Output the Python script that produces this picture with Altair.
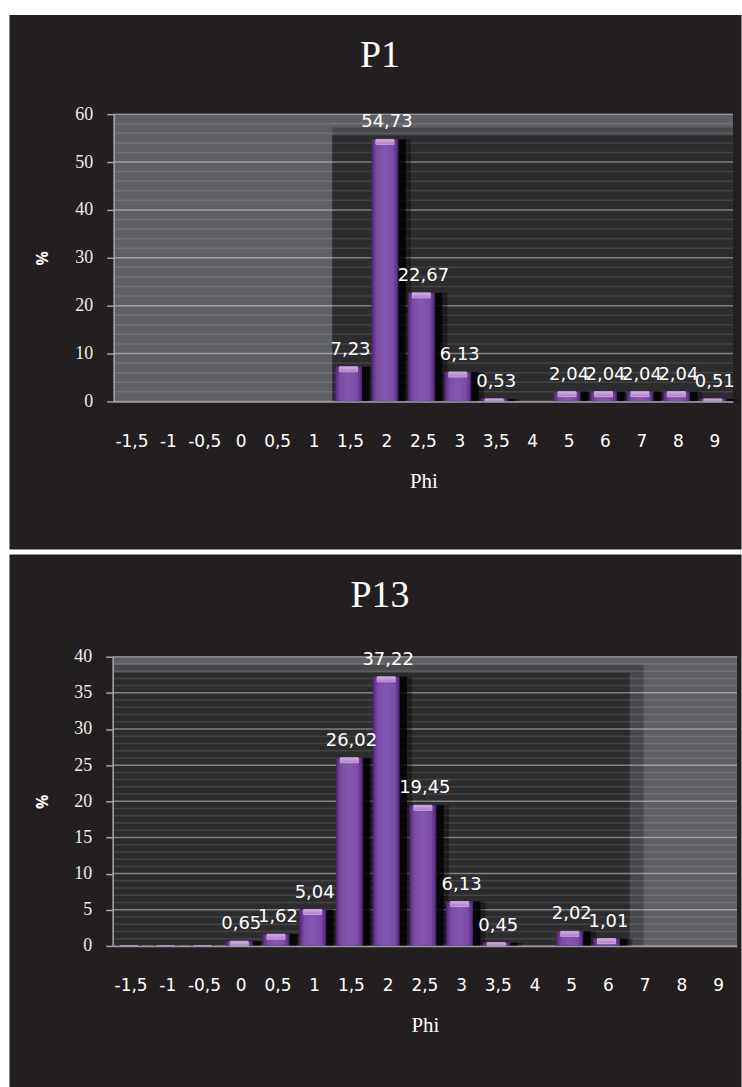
import altair as alt
import pandas as pd

# ---------------- data ----------------
categories = ["-1,5", "-1", "-0,5", "0", "0,5", "1", "1,5", "2", "2,5",
              "3", "3,5", "4", "5", "6", "7", "8", "9"]
p1_values = [None, None, None, None, None, None, 7.23, 54.73, 22.67,
             6.13, 0.53, None, 2.04, 2.04, 2.04, 2.04, 0.51]
p13_values = [0, 0, 0, 0.65, 1.62, 5.04, 26.02, 37.22, 19.45,
              6.13, 0.45, None, 2.02, 1.01, None, None, None]
p1_ticks = [0, 10, 20, 30, 40, 50, 60]
p13_ticks = [0, 5, 10, 15, 20, 25, 30, 35, 40]
p1_minor_step = 2
p13_minor_step = 1
panel_titles = ["P1", "P13"]
x_title = "Phi"
y_title = "%"

PANEL_W, PANEL_H = 734, 536
BG = "#231f20"


def fmt(v):
    return f"{v:.2f}".replace(".", ",")


bar_grad = alt.Gradient(
    gradient="linear", x1=0, x2=1, y1=0, y2=0,
    stops=[alt.GradientStop(color="#56297e", offset=0),
           alt.GradientStop(color="#7a4ca6", offset=0.18),
           alt.GradientStop(color="#8657b1", offset=0.5),
           alt.GradientStop(color="#7a4ca6", offset=0.82),
           alt.GradientStop(color="#56297e", offset=1)])
hl_grad = alt.Gradient(
    gradient="linear", x1=0, x2=0, y1=0, y2=1,
    stops=[alt.GradientStop(color="#d6b2e3", offset=0),
           alt.GradientStop(color="#a77acb", offset=1)])


def panel(title, values, ticks, minor_step, x_range, y_range):
    ymax = ticks[-1]
    plot_h = y_range[0] - y_range[1]
    upp = ymax / plot_h  # data units per pixel

    xs = alt.Scale(domain=categories, range=x_range, paddingInner=0, paddingOuter=0)
    ys = alt.Scale(domain=[0, ymax], range=y_range, nice=False, zero=True)

    df = pd.DataFrame({"phi": categories, "v": values})
    df["lab"] = [fmt(v) if (v is not None and v > 0) else "" for v in values]

    valid = [i for i, v in enumerate(values) if v is not None]
    first, last = valid[0], valid[-1]
    vmax = max(values[i] for i in valid)
    ext = 0 if last == len(categories) - 1 else 1

    frame = pd.DataFrame({"c0": [categories[0]], "c1": [categories[-1]],
                          "top": [ymax], "bot": [0]})
    shade = pd.DataFrame({"c0": [categories[first]], "c1": [categories[last]],
                          "inner": [min(ymax, vmax + 4 * upp)],
                          "outer": [min(ymax, vmax + 12 * upp)], "bot": [0]})
    n = int(round(ymax / minor_step))
    minor = [i * minor_step for i in range(n + 1) if i * minor_step not in ticks]
    grid = pd.DataFrame({"y": list(ticks) + minor,
                         "major": [True] * len(ticks) + [False] * len(minor),
                         "c0": categories[0], "c1": categories[-1]})

    def xband(field, bp):
        return alt.X(f"{field}:N", scale=xs, axis=None, title=x_title, bandPosition=bp)

    def yq(field):
        return alt.Y(f"{field}:Q", scale=ys, axis=None, title=y_title)

    plotbg = alt.Chart(frame).mark_rect(fill="#5f6064").encode(
        x=xband("c0", 0), x2=alt.X2("c1", bandPosition=1), y=yq("top"), y2="bot")
    outer = alt.Chart(shade).mark_rect(fill="#47484b", x2Offset=17 * ext).encode(
        x=xband("c0", 0), x2=alt.X2("c1", bandPosition=1), y=yq("outer"), y2="bot")
    inner = alt.Chart(shade).mark_rect(fill="#2c2c2e", x2Offset=3 * ext).encode(
        x=xband("c0", 0), x2=alt.X2("c1", bandPosition=1), y=yq("inner"), y2="bot")

    gminor = alt.Chart(grid).transform_filter("!datum.major").mark_rule(
        color="white", strokeOpacity=0.11, strokeWidth=1.5).encode(
        x=xband("c0", 0), x2=alt.X2("c1", bandPosition=1), y=yq("y"))
    gmajor = alt.Chart(grid).transform_filter("datum.major").mark_rule(
        color="white", strokeOpacity=0.4, strokeWidth=1.5).encode(
        x=xband("c0", 0), x2=alt.X2("c1", bandPosition=1), y=yq("y"))

    base = alt.Chart(df).transform_filter("isValid(datum.v)")
    xcat = alt.X("phi:N", scale=xs, axis=None, title=x_title)

    xaxis = alt.Axis(orient="bottom", offset=-(PANEL_H - y_range[0]), ticks=False,
                     tickSize=0, domain=True, domainColor="#9c9c9e", domainWidth=1.5,
                     labelPadding=32, labelAngle=0, labelOverlap=False,
                     labelFont="DejaVu Sans", labelFontSize=17, labelColor="#ffffff",
                     grid=False, titleFont="Liberation Serif", titleFontSize=21,
                     titleFontWeight="normal", titleColor="#ffffff",
                     titleBaseline="middle", titleY=80, zindex=1)
    yaxis = alt.Axis(orient="left", offset=-x_range[0], values=ticks, grid=False,
                     domain=True, domainColor="#a4a4a6", domainWidth=1.5,
                     ticks=True, tickColor="#a4a4a6", tickSize=7, tickWidth=1.5,
                     labelPadding=14, labelFont="Liberation Serif", labelFontSize=18,
                     labelColor="#eeeeee", titleFont="Open Sans", titleFontSize=16,
                     titleFontWeight="bold", titleColor="#ffffff",
                     titleX=34 - x_range[0], titleY=(y_range[0] + y_range[1]) / 2,
                     titleBaseline="middle", titleAlign="center", zindex=1)

    shadow2 = base.mark_bar(width=26, xOffset=11, color="black", opacity=0.35).encode(
        x=xcat, y=yq("v"))
    shadow1 = base.mark_bar(width=26, xOffset=6, color="black", opacity=0.8).encode(
        x=xcat, y=yq("v"))
    bars = base.mark_bar(width=26, xOffset=-2, fill=bar_grad, stroke="#4e2574",
                         strokeWidth=1).encode(
        x=alt.X("phi:N", scale=xs, axis=xaxis, title=x_title),
        y=alt.Y("v:Q", scale=ys, axis=yaxis, title=y_title))
    highlight = base.transform_calculate(
        hb=f"max(0, datum.v - {5 * upp})").mark_bar(
        width=18, xOffset=-2, fill=hl_grad, stroke="#c9a3d9", strokeWidth=1).encode(
        x=xcat, y=yq("v"), y2="hb:Q")
    labels = base.transform_filter("datum.v > 0").mark_text(
        dy=-12, baseline="alphabetic", align="center", font="DejaVu Sans",
        fontSize=18, color="#ffffff").encode(x=xcat, y=yq("v"), text="lab:N")
    ttl = alt.Chart(pd.DataFrame({"t": [title]})).mark_text(
        font="Liberation Serif", fontSize=38, color="#ffffff", baseline="middle",
        align="center").encode(x=alt.value(372), y=alt.value(42), text="t:N")

    return alt.layer(plotbg, outer, inner, gminor, gmajor, shadow2, shadow1,
                     bars, highlight, labels, ttl).resolve_axis(
        x="independent", y="independent").properties(
        width=PANEL_W, height=PANEL_H)


top = panel(panel_titles[0], p1_values, p1_ticks, p1_minor_step, [105, 726], [388, 100])
bottom = panel(panel_titles[1], p13_values, p13_ticks, p13_minor_step, [104, 730], [393, 103])

chart = alt.vconcat(top, bottom, spacing=3).properties(
    background="white",
    padding={"left": 8, "top": 12, "right": 0, "bottom": 0},
).configure_view(fill=BG, stroke="transparent")

chart.save("out.html", embed_options={"renderer": "svg", "actions": False})
